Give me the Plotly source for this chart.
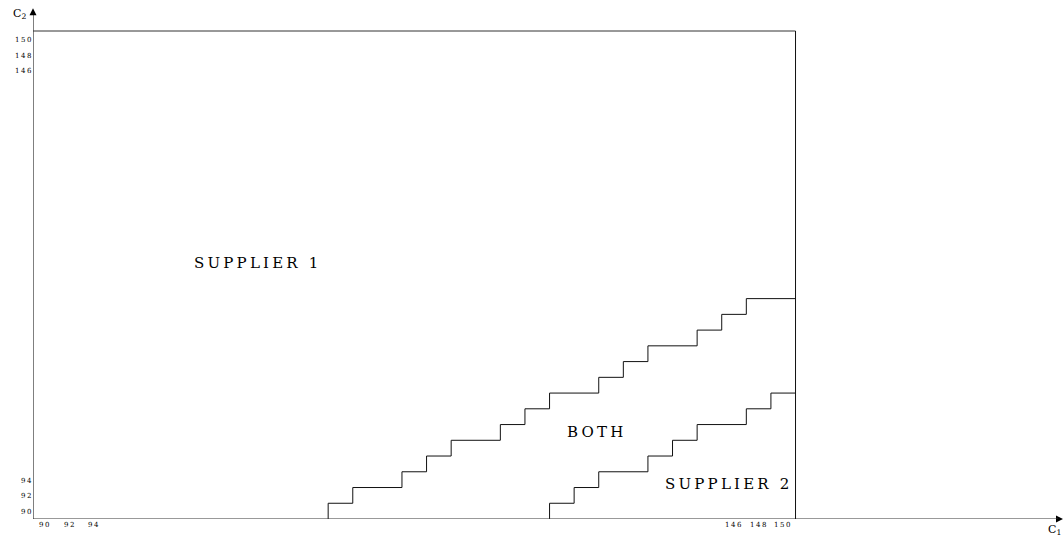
import plotly.graph_objects as go

# Unit prices offered by the two suppliers (C1 horizontal, C2 vertical)
C_MIN, C_MAX = 89, 151

# Upper boundary: above it only supplier 1 is chosen
upper_steps_c1 = [113, 115, 119, 121, 123, 127, 129, 131, 135, 137, 139, 143, 145, 147]
upper_levels_c2 = [91, 93, 95, 97, 99, 101, 103, 105, 107, 109, 111, 113, 115, 117]

# Lower boundary: below it only supplier 2 is chosen
lower_steps_c1 = [131, 133, 135, 139, 141, 143, 147, 149]
lower_levels_c2 = [91, 93, 95, 97, 99, 101, 103, 105]

# Tick labels shown at both ends of each axis
x_tick_vals = [90, 92, 94, 146, 148, 150]
y_tick_vals = [90, 92, 94, 146, 148, 150]

# Region names and where they sit in (C1, C2)
region_names = ["SUPPLIER 1", "BOTH", "SUPPLIER 2"]
region_c1 = [107.1, 134.7, 145.4]
region_c2 = [121.5, 100.05, 93.5]

X_END = 172.83   # right end of the drawing area
Y_END = 154.94   # top end of the drawing area
X_TIP = 172.75   # arrow tip of the C1 axis
Y_TIP = 153.9    # arrow tip of the C2 axis

SERIF = "DejaVu Serif, Liberation Serif, serif"
INK = "#111111"

fig = go.Figure()


def staircase(steps, levels):
    xs = list(steps) + [C_MAX]
    ys = [C_MIN] + list(levels)
    fig.add_trace(go.Scatter(
        x=xs, y=ys, mode="lines",
        line=dict(shape="vh", color=INK, width=1),
        hoverinfo="skip", showlegend=False,
    ))


staircase(upper_steps_c1, upper_levels_c2)
staircase(lower_steps_c1, lower_levels_c2)

# Axis lines and the top/right edges of the price box
line_specs = [
    (C_MIN, C_MIN, C_MIN, Y_TIP - 0.6, "#000000"),   # C2 axis
    (C_MIN, C_MIN, X_TIP - 0.4, C_MIN, "#333333"),   # C1 axis
    (C_MIN, C_MAX, C_MAX, C_MAX, "#333333"),         # top edge
    (C_MAX, C_MIN, C_MAX, C_MAX, INK),               # right edge
]
for x0, y0, x1, y1, col in line_specs:
    fig.add_shape(type="line", x0=x0, y0=y0, x1=x1, y1=y1,
                  line=dict(color=col, width=1))

# Arrow heads at the axis ends
fig.add_trace(go.Scatter(
    x=[C_MIN], y=[Y_TIP], mode="markers",
    marker=dict(symbol="arrow-up", size=7, color="#000000", line=dict(width=0)),
    hoverinfo="skip", showlegend=False, cliponaxis=False,
))
fig.add_trace(go.Scatter(
    x=[X_TIP], y=[C_MIN], mode="markers",
    marker=dict(symbol="arrow-right", size=7, color="#000000", line=dict(width=0)),
    hoverinfo="skip", showlegend=False, cliponaxis=False,
))

annotations = []

# Axis titles
annotations.append(dict(x=C_MIN, y=Y_END, xref="x", yref="y", xanchor="right", yanchor="top",
                        xshift=-5, yshift=-5, showarrow=False,
                        text="C<sub>2</sub>", font=dict(family=SERIF, size=11, color="#000")))
annotations.append(dict(x=X_END, y=C_MIN, xref="x", yref="y", xanchor="right", yanchor="top",
                        xshift=-1, yshift=-2, showarrow=False,
                        text="C<sub>1</sub>", font=dict(family=SERIF, size=11, color="#000")))

# Tick labels
tick_font = dict(family=SERIF, size=7, color="#000")
for v in x_tick_vals:
    annotations.append(dict(x=v, y=C_MIN, xref="x", yref="y", xanchor="center",
                            yanchor="middle", yshift=-6, xshift=0, showarrow=False,
                            text=f'<span style="letter-spacing:1.5px">{v}</span>',
                            font=tick_font))
for v in y_tick_vals:
    annotations.append(dict(x=C_MIN, y=v, xref="x", yref="y", xanchor="right",
                            yanchor="middle", xshift=2, yshift=-1, showarrow=False,
                            text=f'<span style="letter-spacing:1.5px">{v}</span>',
                            font=tick_font))

# Region names
for name, cx, cy in zip(region_names, region_c1, region_c2):
    annotations.append(dict(x=cx, y=cy, xref="x", yref="y", xanchor="center",
                            yanchor="middle", xshift=2, showarrow=False,
                            text=f'<span style="letter-spacing:3.2px">{name}</span>',
                            font=dict(family=SERIF, size=15, color="#000")))

fig.update_layout(
    width=1064, height=537,
    margin=dict(l=33, r=0, t=0, b=18, pad=0),
    paper_bgcolor="white", plot_bgcolor="white",
    xaxis=dict(range=[C_MIN, X_END], visible=False, fixedrange=True),
    yaxis=dict(range=[C_MIN, Y_END], visible=False, fixedrange=True),
    showlegend=False,
    annotations=annotations,
)

fig.write_html("out.html")
